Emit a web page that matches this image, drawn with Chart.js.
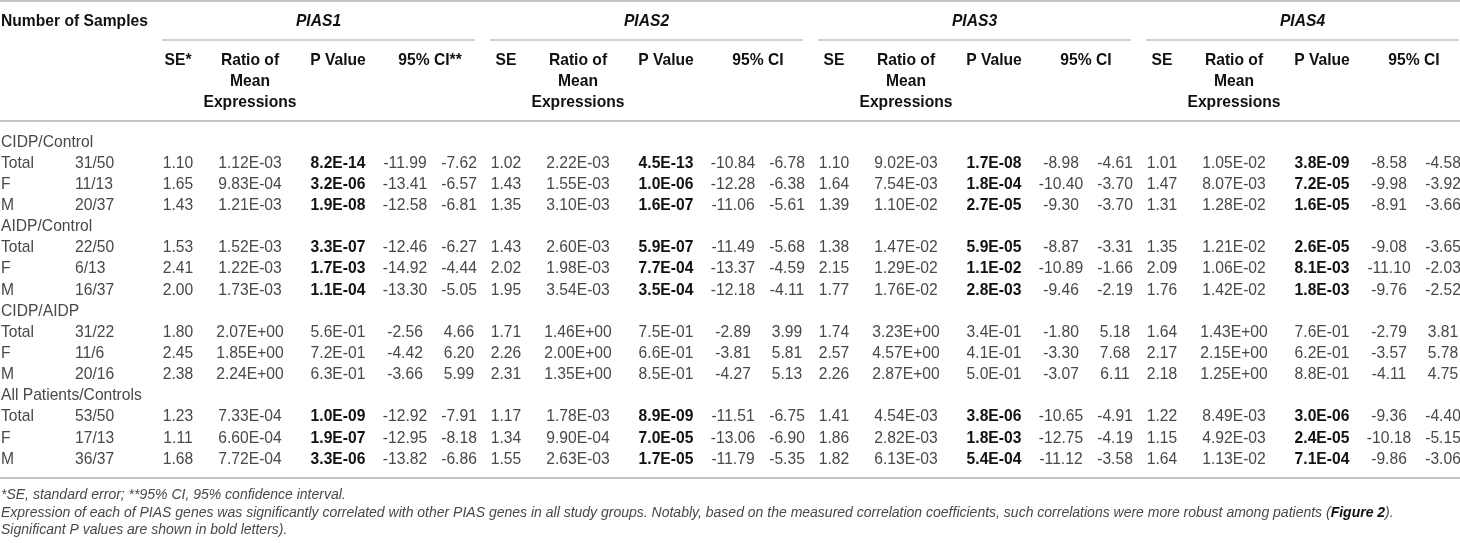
<!DOCTYPE html>
<html>
<head>
<meta charset="utf-8">
<script src="https://cdn.jsdelivr.net/npm/chart.js@4"></script>
<style>
  html, body { margin: 0; padding: 0; background: #fff; }
  #wrap { width: 1460px; height: 543px; }
</style>
</head>
<body>
<div id="wrap"><canvas id="tabela" width="1460" height="543"></canvas></div>
<script>
const genes = ["PIAS1", "PIAS2", "PIAS3", "PIAS4"];
const grupos = ["CIDP/Control", "AIDP/Control", "CIDP/AIDP", "All Patients/Controls"];
const linhas = ["Total", "F", "M"];
const amostras = [
  ["31/50", "11/13", "20/37"],
  ["22/50", "6/13", "16/37"],
  ["31/22", "11/6", "20/16"],
  ["53/50", "17/13", "36/37"]
];

const pias1SE = ["1.10", "1.65", "1.43", "1.53", "2.41", "2.00", "1.80", "2.45", "2.38", "1.23", "1.11", "1.68"];
const pias1Ratio = ["1.12E-03", "9.83E-04", "1.21E-03", "1.52E-03", "1.22E-03", "1.73E-03", "2.07E+00", "1.85E+00", "2.24E+00", "7.33E-04", "6.60E-04", "7.72E-04"];
const pias1P = ["8.2E-14", "3.2E-06", "1.9E-08", "3.3E-07", "1.7E-03", "1.1E-04", "5.6E-01", "7.2E-01", "6.3E-01", "1.0E-09", "1.9E-07", "3.3E-06"];
const pias1Lo = ["-11.99", "-13.41", "-12.58", "-12.46", "-14.92", "-13.30", "-2.56", "-4.42", "-3.66", "-12.92", "-12.95", "-13.82"];
const pias1Hi = ["-7.62", "-6.57", "-6.81", "-6.27", "-4.44", "-5.05", "4.66", "6.20", "5.99", "-7.91", "-8.18", "-6.86"];

const pias2SE = ["1.02", "1.43", "1.35", "1.43", "2.02", "1.95", "1.71", "2.26", "2.31", "1.17", "1.34", "1.55"];
const pias2Ratio = ["2.22E-03", "1.55E-03", "3.10E-03", "2.60E-03", "1.98E-03", "3.54E-03", "1.46E+00", "2.00E+00", "1.35E+00", "1.78E-03", "9.90E-04", "2.63E-03"];
const pias2P = ["4.5E-13", "1.0E-06", "1.6E-07", "5.9E-07", "7.7E-04", "3.5E-04", "7.5E-01", "6.6E-01", "8.5E-01", "8.9E-09", "7.0E-05", "1.7E-05"];
const pias2Lo = ["-10.84", "-12.28", "-11.06", "-11.49", "-13.37", "-12.18", "-2.89", "-3.81", "-4.27", "-11.51", "-13.06", "-11.79"];
const pias2Hi = ["-6.78", "-6.38", "-5.61", "-5.68", "-4.59", "-4.11", "3.99", "5.81", "5.13", "-6.75", "-6.90", "-5.35"];

const pias3SE = ["1.10", "1.64", "1.39", "1.38", "2.15", "1.77", "1.74", "2.57", "2.26", "1.41", "1.86", "1.82"];
const pias3Ratio = ["9.02E-03", "7.54E-03", "1.10E-02", "1.47E-02", "1.29E-02", "1.76E-02", "3.23E+00", "4.57E+00", "2.87E+00", "4.54E-03", "2.82E-03", "6.13E-03"];
const pias3P = ["1.7E-08", "1.8E-04", "2.7E-05", "5.9E-05", "1.1E-02", "2.8E-03", "3.4E-01", "4.1E-01", "5.0E-01", "3.8E-06", "1.8E-03", "5.4E-04"];
const pias3Lo = ["-8.98", "-10.40", "-9.30", "-8.87", "-10.89", "-9.46", "-1.80", "-3.30", "-3.07", "-10.65", "-12.75", "-11.12"];
const pias3Hi = ["-4.61", "-3.70", "-3.70", "-3.31", "-1.66", "-2.19", "5.18", "7.68", "6.11", "-4.91", "-4.19", "-3.58"];

const pias4SE = ["1.01", "1.47", "1.31", "1.35", "2.09", "1.76", "1.64", "2.17", "2.18", "1.22", "1.15", "1.64"];
const pias4Ratio = ["1.05E-02", "8.07E-03", "1.28E-02", "1.21E-02", "1.06E-02", "1.42E-02", "1.43E+00", "2.15E+00", "1.25E+00", "8.49E-03", "4.92E-03", "1.13E-02"];
const pias4P = ["3.8E-09", "7.2E-05", "1.6E-05", "2.6E-05", "8.1E-03", "1.8E-03", "7.6E-01", "6.2E-01", "8.8E-01", "3.0E-06", "2.4E-05", "7.1E-04"];
const pias4Lo = ["-8.58", "-9.98", "-8.91", "-9.08", "-11.10", "-9.76", "-2.79", "-3.57", "-4.11", "-9.36", "-10.18", "-9.86"];
const pias4Hi = ["-4.58", "-3.92", "-3.66", "-3.65", "-2.03", "-2.52", "3.81", "5.78", "4.75", "-4.40", "-5.15", "-3.06"];

const cabecalhoSE = ["SE*", "SE", "SE", "SE"];
const cabecalhoCI = ["95% CI**", "95% CI", "95% CI", "95% CI"];
const cabecalhoRatio = ["Ratio of", "Mean", "Expressions"];

const nota1 = "*SE, standard error; **95% CI, 95% confidence interval.";
const nota2 = ["Expression of each of PIAS genes was significantly correlated with other PIAS genes in all study groups. Notably, based on the measured correlation coefficients, such correlations were more robust among patients (", "Figure 2", ")."];
const nota3 = "Significant P values are shown in bold letters).";

const dadosGenes = [
  { se: pias1SE, ratio: pias1Ratio, p: pias1P, lo: pias1Lo, hi: pias1Hi },
  { se: pias2SE, ratio: pias2Ratio, p: pias2P, lo: pias2Lo, hi: pias2Hi },
  { se: pias3SE, ratio: pias3Ratio, p: pias3P, lo: pias3Lo, hi: pias3Hi },
  { se: pias4SE, ratio: pias4Ratio, p: pias4P, lo: pias4Lo, hi: pias4Hi }
];

// layout (pixel units of the hidden scales)
const familia = '"Liberation Sans", Arial, sans-serif';
const corTexto = "#484848";
const corForte = "#111111";
const corLinha = "#c4c4c4";
const escalaX = 0.92;
const passoGrupo = 328;
const col = { se: 178, ratio: 250, p: 338, lo: 405, hi: 459, ini: 162, fim: 475 };
const topo = { linha0: 1, titulo: 21, linhaGene: 40, sub: [60, 81, 102], linhaCab: 121, linhaFim: 478 };
const corpo = { y0: 142, passo: 21.13 };
const notasY = [495, 513, 530];

function texto(ctx, str, x, y, fonte, alinhar, cor, sx) {
  ctx.save();
  ctx.font = fonte;
  ctx.fillStyle = cor;
  ctx.textBaseline = "middle";
  ctx.textAlign = alinhar;
  ctx.translate(x, y);
  ctx.scale(sx, 1);
  ctx.fillText(str, 0, 0);
  ctx.restore();
}

function linha(ctx, x1, x2, y, larg) {
  ctx.save();
  ctx.strokeStyle = corLinha;
  ctx.lineWidth = larg;
  ctx.beginPath();
  ctx.moveTo(x1, y);
  ctx.lineTo(x2, y);
  ctx.stroke();
  ctx.restore();
}

const pluginTabela = {
  id: "tabela",
  afterDraw(chart) {
    const ctx = chart.ctx;
    const sx = v => chart.scales.x.getPixelForValue(v);
    const sy = v => chart.scales.y.getPixelForValue(v);
    const normal = "17px " + familia;
    const negrito = "bold 17px " + familia;
    const negItal = "italic bold 17px " + familia;

    linha(ctx, sx(0), sx(1460), sy(topo.linha0), 2);
    linha(ctx, sx(0), sx(1460), sy(topo.linhaCab), 2);
    linha(ctx, sx(0), sx(1460), sy(topo.linhaFim), 2);

    texto(ctx, "Number of Samples", sx(1), sy(topo.titulo), negrito, "left", corForte, escalaX);

    genes.forEach((g, gi) => {
      const d = gi * passoGrupo;
      linha(ctx, sx(col.ini + d), sx(col.fim + d), sy(topo.linhaGene), 1.5);
      texto(ctx, g, sx((col.ini + col.fim) / 2 + d), sy(topo.titulo), negItal, "center", corForte, escalaX);
      texto(ctx, cabecalhoSE[gi], sx(col.se + d), sy(topo.sub[0]), negrito, "center", corForte, escalaX);
      cabecalhoRatio.forEach((r, ri) => {
        texto(ctx, r, sx(col.ratio + d), sy(topo.sub[ri]), negrito, "center", corForte, escalaX);
      });
      texto(ctx, "P Value", sx(col.p + d), sy(topo.sub[0]), negrito, "center", corForte, escalaX);
      texto(ctx, cabecalhoCI[gi], sx((col.lo + col.hi) / 2 - 2 + d), sy(topo.sub[0]), negrito, "center", corForte, escalaX);
    });

    let r = 0;
    grupos.forEach((grp, k) => {
      texto(ctx, grp, sx(1), sy(corpo.y0 + r * corpo.passo), normal, "left", corTexto, escalaX);
      r++;
      linhas.forEach((lb, j) => {
        const y = sy(corpo.y0 + r * corpo.passo);
        const i = k * 3 + j;
        texto(ctx, lb, sx(1), y, normal, "left", corTexto, escalaX);
        texto(ctx, amostras[k][j], sx(75), y, normal, "left", corTexto, escalaX);
        dadosGenes.forEach((dg, gi) => {
          const d = gi * passoGrupo;
          const sig = parseFloat(dg.p[i]) < 0.05;
          texto(ctx, dg.se[i], sx(col.se + d), y, normal, "center", corTexto, escalaX);
          texto(ctx, dg.ratio[i], sx(col.ratio + d), y, normal, "center", corTexto, escalaX);
          texto(ctx, dg.p[i], sx(col.p + d), y, sig ? negrito : normal, "center", sig ? corForte : corTexto, escalaX);
          texto(ctx, dg.lo[i], sx(col.lo + d), y, normal, "center", corTexto, escalaX);
          texto(ctx, dg.hi[i], sx(col.hi + d), y, normal, "center", corTexto, escalaX);
        });
        r++;
      });
    });

    const ital = "italic 14px " + familia;
    const italNeg = "italic bold 14px " + familia;
    texto(ctx, nota1, sx(1), sy(notasY[0]), ital, "left", corTexto, 1);
    let x = sx(1);
    nota2.forEach((seg, si) => {
      const f = si === 1 ? italNeg : ital;
      texto(ctx, seg, x, sy(notasY[1]), f, "left", si === 1 ? corForte : corTexto, 1);
      ctx.save();
      ctx.font = f;
      x += ctx.measureText(seg).width;
      ctx.restore();
    });
    texto(ctx, nota3, sx(1), sy(notasY[2]), ital, "left", corTexto, 1);
  }
};

new Chart(document.getElementById("tabela"), {
  type: "scatter",
  data: { datasets: [] },
  options: {
    responsive: false,
    animation: false,
    devicePixelRatio: 1,
    layout: { padding: 0 },
    plugins: { legend: { display: false }, tooltip: { enabled: false } },
    scales: {
      x: { type: "linear", min: 0, max: 1460, display: false },
      y: { type: "linear", min: 0, max: 543, reverse: true, display: false }
    }
  },
  plugins: [pluginTabela]
});
</script>
</body>
</html>
